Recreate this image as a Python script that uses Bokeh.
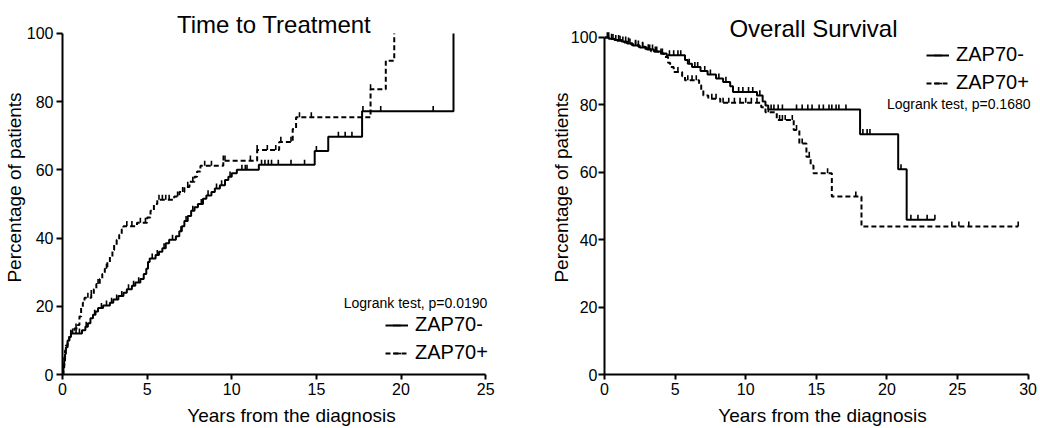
import numpy as np
from bokeh.plotting import figure
from bokeh.layouts import row
from bokeh.models import Range1d, FixedTicker, Label, Legend, LegendItem
from bokeh.embed import file_html
from bokeh.resources import INLINE

FONT = "Liberation Sans"

# ---------------- Time to Treatment (cumulative %, step starts) ----------------
ttt_neg_t = [0, 0.05, 0.1, 0.15, 0.2, 0.3, 0.4, 0.5, 1.15, 1.35, 1.5, 1.65, 1.8, 1.95,
             2.1, 2.4, 2.8, 3.0, 3.3, 3.6, 3.8, 4.1, 4.3, 4.6, 4.8, 4.95, 5.05, 5.15,
             5.5, 5.7, 5.9, 6.1, 6.3, 6.7, 6.9, 7.05, 7.2, 7.4, 7.6, 7.8, 8.0, 8.3,
             8.5, 8.8, 9.0, 9.3, 9.6, 9.8, 10.0, 10.3, 11.6, 14.9, 15.7, 17.7, 23.1]
ttt_neg_v = [0, 2, 4, 6, 8, 10, 11, 12, 13, 14, 15, 16.5, 17.5, 18.5,
             19.5, 20.2, 21, 22, 23, 24, 25, 26, 27, 28, 29.5, 31, 33, 34,
             35, 36, 37, 38.5, 39.5, 40.5, 42, 43.5, 45, 46.5, 48, 49, 50, 51.5,
             52.5, 53.5, 54.5, 55.5, 57, 58, 59, 60, 61.5, 65.5, 69.7, 77.2, 100]
ttt_neg_cens = [0.6, 0.8, 1.0, 1.4, 1.9, 2.3, 2.6, 2.9, 3.2, 3.5, 3.9, 4.2, 4.5, 5.3,
                5.6, 6.0, 6.5, 7.0, 7.3, 7.7, 8.2, 8.6, 9.1, 9.4, 9.9, 10.6, 10.8,
                10.9, 11.76, 11.96, 12.16, 12.35, 12.75, 13.5, 14.3, 15.0, 16.3,
                16.7, 17.1, 17.75, 18.8, 21.9]

ttt_pos_t = [0, 0.05, 0.1, 0.15, 0.2, 0.3, 0.4, 0.5, 0.7, 0.9, 1.0, 1.1, 1.2, 1.3,
             1.7, 1.85, 2.0, 2.2, 2.35, 2.5, 2.65, 2.8, 2.95, 3.05, 3.2, 3.35, 3.5,
             3.6, 4.4, 5.0, 5.2, 5.4, 5.6, 6.6, 6.9, 7.2, 7.5, 7.8, 7.95, 8.15, 9.5,
             11.5, 12.8, 13.6, 13.8, 18.2, 19.1, 19.6]
ttt_pos_v = [0, 2.5, 5, 7, 8.5, 10, 11.5, 13, 13.5, 14.5, 17, 19.5, 21, 22.5,
             23.3, 25, 26.5, 28, 29.5, 31, 33, 34.5, 36.5, 38, 39.5, 41, 42.5,
             43.5, 44.5, 46, 48, 50, 51.2, 52.2, 53.5, 55, 56.5, 58, 59.5, 61.2, 62.7,
             65.8, 68.2, 72, 75.4, 83.6, 92, 100]
ttt_pos_cens = [0.8, 1.5, 1.7, 2.1, 2.6, 3.8, 4.1, 4.6, 4.9, 5.7, 5.9, 6.1, 6.3,
                6.8, 7.1, 7.4, 7.7, 8.4, 8.8, 9.5, 9.6, 11.1, 11.5, 12.1, 12.6,
                12.9, 13.5, 14.0, 14.7, 18.2]

# ---------------- Overall Survival (% alive, step starts) ----------------
os_neg_t = [0, 0.3, 0.7, 1.2, 1.6, 2.0, 2.5, 3.0, 3.5, 4.0, 4.4, 5.7, 5.9, 6.2,
            6.8, 7.3, 7.9, 8.4, 8.9, 9.1, 10.8, 11.2, 11.4, 11.6, 18.1, 20.8, 21.4,
            23.4]
os_neg_v = [100, 99.6, 99.2, 98.8, 98.2, 97.6, 97.0, 96.4, 95.8, 95.2, 94.7, 93.3,
            92.2, 91.2, 90.0, 89.0, 87.8, 86.8, 85.5, 83.8, 82.8, 81.0, 79.8, 78.6,
            71.3, 60.9, 45.9, 45.9]
os_neg_cens = [0.2, 0.5, 0.8, 1.0, 1.3, 1.5, 1.8, 2.2, 2.4, 2.7, 3.2, 3.4, 3.7, 4.1,
               4.6, 4.9, 5.2, 5.4, 6.0, 6.4, 6.6, 7.1, 7.5, 8.1, 8.6, 9.5, 9.8, 10.2,
               10.5, 11.0, 11.8, 12.0, 12.3, 12.6, 13.6, 14.0, 14.4, 14.7, 15.2,
               15.5, 15.9, 16.1, 16.4, 16.6, 17.1, 18.3, 18.6, 18.8, 21.0, 21.7,
               22.2, 22.85, 23.4]

os_pos_t = [0, 0.4, 0.9, 1.4, 1.9, 2.4, 2.9, 3.3, 3.8, 4.2, 4.5, 4.65, 4.9, 5.5,
            5.7, 6.7, 6.85, 7.0, 7.35, 8.2, 11.1, 11.4, 12.2, 13.4, 13.8, 14.3, 14.6,
            14.8, 16.1, 18.2, 29.3]
os_pos_v = [100, 99.5, 99.0, 98.5, 97.8, 97.2, 96.5, 95.8, 95.2, 94.2, 92.5, 91.2,
            89.7, 88.5, 87.3, 85.8, 84.3, 82.8, 81.8, 80.6, 79.3, 77.8, 75.5, 72.5,
            68.5, 64.6, 62.0, 59.7, 52.8, 43.9, 43.9]
os_pos_cens = [0.3, 0.6, 1.1, 1.7, 2.2, 2.7, 3.1, 3.6, 4.0, 5.2, 5.9, 6.2, 6.5, 7.6,
               7.9, 8.4, 8.8, 9.2, 9.6, 10.0, 10.4, 10.8, 11.6, 12.4, 12.6, 12.8,
               13.3, 13.6, 14.0, 14.5, 15.8, 17.8, 24.6, 25.1, 25.8, 29.3]

y_ticks = [0, 20, 40, 60, 80, 100]
ttt_x_ticks = [0, 5, 10, 15, 20, 25]
os_x_ticks = [0, 5, 10, 15, 20, 25, 30]


def level_at(ts, vs, cs):
    ts = np.asarray(ts)
    vs = np.asarray(vs)
    idx = np.searchsorted(ts, np.asarray(cs), side="right") - 1
    return vs[np.clip(idx, 0, len(vs) - 1)]


def make_fig(x_end, y_end, left, x_bound, x_ticks, tick_standoff, label_standoff):
    p = figure(width=520, height=428, x_range=Range1d(0, x_end), y_range=Range1d(0, y_end),
               output_backend="svg", toolbar_location=None,
               min_border_left=left, min_border_right=0, min_border_top=0,
               min_border_bottom=53)
    p.outline_line_color = None
    p.xgrid.visible = False
    p.ygrid.visible = False
    p.xaxis.bounds = (0, x_bound)
    p.yaxis.bounds = (0, 100)
    p.xaxis.ticker = FixedTicker(ticks=x_ticks)
    p.yaxis.ticker = FixedTicker(ticks=y_ticks)
    for ax in (p.xaxis[0], p.yaxis[0]):
        ax.axis_line_width = 2
        ax.axis_line_color = "black"
        ax.major_tick_line_width = 2
        ax.major_tick_line_color = "black"
        ax.major_tick_in = 0
        ax.minor_tick_line_color = None
        ax.major_label_text_font = FONT
        ax.major_label_text_font_size = "16px"
        ax.major_label_text_color = "black"
        ax.axis_label_text_font = FONT
        ax.axis_label_text_font_size = "19px"
        ax.axis_label_text_font_style = "normal"
        ax.axis_label_text_color = "black"
    p.xaxis.major_tick_out = 5
    p.yaxis.major_tick_out = 6
    p.xaxis.major_label_standoff = 3
    p.yaxis.major_label_standoff = tick_standoff
    p.xaxis.axis_label_standoff = 7
    p.yaxis.axis_label_standoff = label_standoff
    p.xaxis.axis_label = "Years from the diagnosis"
    p.yaxis.axis_label = "Percentage of patients"
    return p


def add_curve(p, ts, vs, cs, dash, off):
    ln = p.step(x=ts, y=vs, mode="after", line_color="black", line_width=2,
                line_dash=dash)
    cy = level_at(ts, vs, cs) + off
    sc = p.scatter(x=cs, y=cy, marker="dash", angle=np.pi / 2, size=5,
                   line_color="black", line_width=1.6)
    return ln, sc


def add_legend(p, items, loc):
    leg = Legend(items=items, location=loc, label_text_font=FONT,
                 label_text_font_size="20px", label_text_color="black",
                 glyph_width=23, glyph_height=20, label_standoff=7, spacing=5,
                 padding=0, margin=0, border_line_color=None,
                 background_fill_alpha=0)
    p.add_layout(leg)


# ---- left figure ----
p1 = make_fig(460 / 17, 375 / 3.42, 60, 25, ttt_x_ticks, 3, -1)
n1 = add_curve(p1, ttt_neg_t, ttt_neg_v, ttt_neg_cens, "solid", 0.75)
d1 = add_curve(p1, ttt_pos_t, ttt_pos_v, ttt_pos_cens, "5 3", 0.75)
add_legend(p1, [LegendItem(label="ZAP70-", renderers=list(n1)),
                LegendItem(label="ZAP70+", renderers=list(d1))], (323, 10))
p1.add_layout(Label(x=12.5, y=102.6, text="Time to Treatment", text_align="center",
                    text_baseline="middle", text_font=FONT, text_font_size="24px",
                    text_color="black"))
p1.add_layout(Label(x=25.1, y=21, text="Logrank test, p=0.0190", text_align="right",
                    text_baseline="middle", text_font=FONT, text_font_size="14px",
                    text_color="black"))

# ---- right figure ----
p2 = make_fig(435.7 / 14.11, 375 / 3.38, 84, 30, os_x_ticks, 1, -4)
n2 = add_curve(p2, os_neg_t, os_neg_v, os_neg_cens, "solid", 0.75)
d2 = add_curve(p2, os_pos_t, os_pos_v, os_pos_cens, "5 3", 0.75)
add_legend(p2, [LegendItem(label="ZAP70-", renderers=list(n2)),
                LegendItem(label="ZAP70+", renderers=list(d2))], (322, 280))
p2.add_layout(Label(x=14.8, y=102.7, text="Overall Survival", text_align="center",
                    text_baseline="middle", text_font=FONT, text_font_size="24px",
                    text_color="black"))
p2.add_layout(Label(x=30.17, y=80.2, text="Logrank test, p=0.1680", text_align="right",
                    text_baseline="middle", text_font=FONT, text_font_size="14px",
                    text_color="black"))

layout = row(p1, p2)
open("out.html", "w").write(file_html(layout, INLINE))
